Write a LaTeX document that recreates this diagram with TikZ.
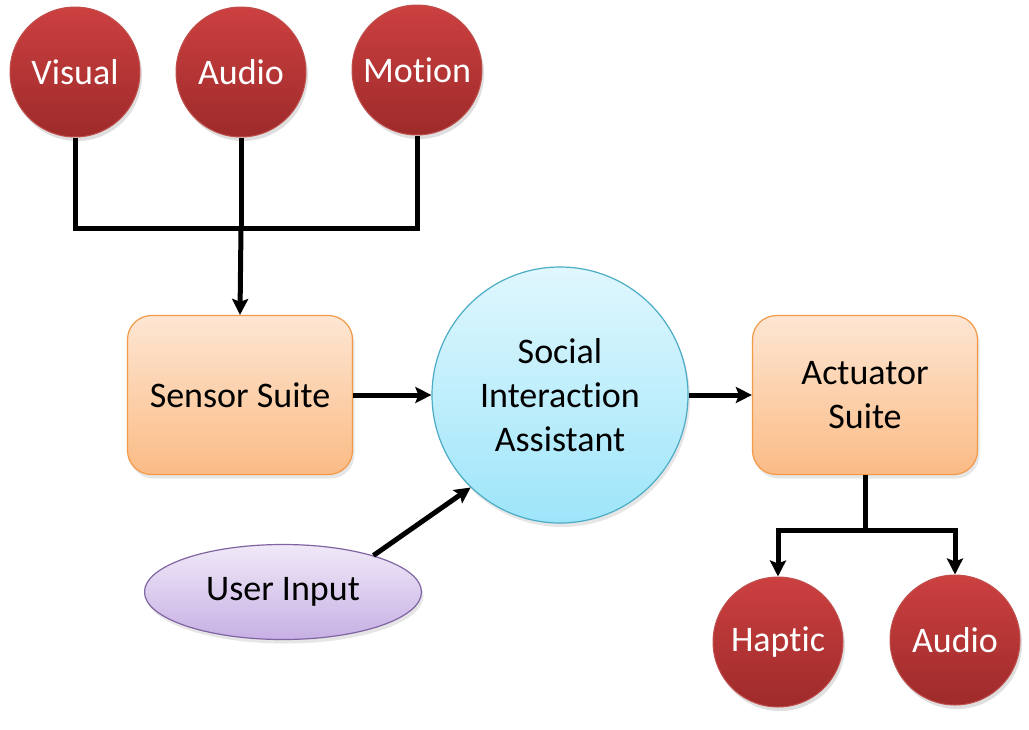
\documentclass[tikz,border=0pt]{standalone}
\usepackage{fontspec}
\setmainfont{Carlito}[Ligatures={NoCommon,NoContextual}]
\usetikzlibrary{arrows.meta,shapes.geometric,shadows}

\definecolor{redtop}{HTML}{CC4040}
\definecolor{redbot}{HTML}{9E2A2A}
\definecolor{redline}{HTML}{C0504D}
\definecolor{orangetop}{HTML}{FDE6D3}
\definecolor{orangebot}{HTML}{FBBB85}
\definecolor{orangeline}{HTML}{F39A48}
\definecolor{bluetop}{HTML}{E0F7FD}
\definecolor{bluebot}{HTML}{9EE5FA}
\definecolor{blueline}{HTML}{4BACC6}
\definecolor{violettop}{HTML}{F0E9F8}
\definecolor{violetbot}{HTML}{C7B0E4}
\definecolor{violetline}{HTML}{8064A2}

\tikzset{
	every node/.style = {font=\fontsize{36}{44}\selectfont},
	channel/.style = {circle, minimum size=130pt, inner sep=0pt, draw=redline, line width=1pt,
		top color=redtop, bottom color=redbot, text=white,
		drop shadow={opacity=0.25, shadow xshift=2pt, shadow yshift=-4pt}},
	suite/.style = {rectangle, rounded corners=24pt, minimum width=225pt, minimum height=159pt,
		draw=orangeline, line width=1.2pt, top color=orangetop, bottom color=orangebot,
		align=center, drop shadow={opacity=0.2, shadow xshift=2pt, shadow yshift=-4pt}},
	core/.style = {circle, minimum size=256pt, inner sep=0pt, draw=blueline, line width=1.2pt,
		top color=bluetop, bottom color=bluebot, align=center,
		drop shadow={opacity=0.2, shadow xshift=2pt, shadow yshift=-4pt}},
	input/.style = {ellipse, minimum width=277pt, minimum height=95pt, inner sep=0pt,
		draw=violetline, line width=1.2pt, top color=violettop, bottom color=violetbot,
		drop shadow={opacity=0.2, shadow xshift=2pt, shadow yshift=-4pt}},
	wire/.style = {line width=5pt, black},
	flow/.style = {wire, -{Stealth[length=16pt, width=16pt, inset=3pt]}}
}

\begin{document}
\begin{tikzpicture}[x=1pt, y=-1pt]
	\useasboundingbox (0,0) rectangle (1029,729);
	
	% sensors
	\node[channel] (visual) at (75,72) {Visual};
	\node[channel] (audioin) at (241,72) {Audio};
	\node[channel] (motion) at (417,70) {Motion};
	
	% main blocks
	\node[suite] (sensor) at (240,395) {Sensor Suite};
	\node[core] (assistant) at (560,395) {Social\\Interaction\\Assistant};
	\node[suite] (actuator) at (865,395) {Actuator\\Suite};
	\node[input] (user) at (283,592) {User Input};
	
	% actuators
	\node[channel] (haptic) at (778,642) {Haptic};
	\node[channel] (audioout) at (955,640) {Audio};
	
	\coordinate (sensorjoin) at (241,228);
	\coordinate (actjoin) at (865,530);
	
	\draw[wire] (visual.south) |- (sensorjoin);
	\draw[wire] (motion.south) |- (sensorjoin);
	\draw[wire] (audioin.south) -- (sensorjoin);
	\draw[flow] (sensorjoin) -- (sensor.north);
	
	\draw[flow] (sensor.east) -- (assistant.west);
	\draw[flow] (assistant.east) -- (actuator.west);
	\draw[flow] (user.22) -- (assistant.226);
	
	\draw[wire] (actuator.south) -- (actjoin);
	\draw[flow] (actjoin) -| (haptic.north);
	\draw[flow] (actjoin) -| (audioout.north);
	
\end{tikzpicture}
\end{document}
